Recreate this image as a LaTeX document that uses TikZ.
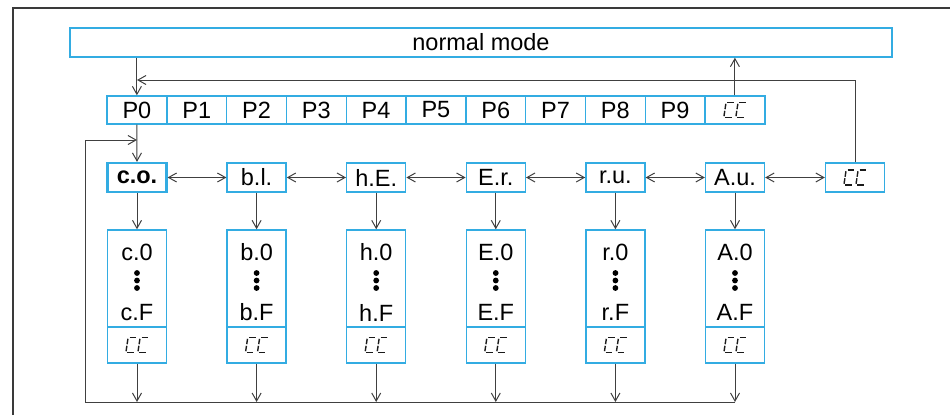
\documentclass[tikz,border=0pt]{standalone}
\usepackage{fontspec}
\setmainfont{Liberation Sans}
\usetikzlibrary{arrows.meta}
\definecolor{boxblue}{HTML}{33ACE2}
\definecolor{wire}{HTML}{404040}
\definecolor{framec}{HTML}{3A3A3A}
\definecolor{glyphc}{HTML}{1A1A1A}
\tikzset{
  lbl/.style={inner sep=0pt, font=\fontsize{23.5}{27}\selectfont, text=black},
  pcell/.style={draw=boxblue, line width=1.4pt, minimum width=59.8pt, minimum height=28pt, inner sep=0pt, lbl},
  rbox/.style={draw=boxblue, line width=1.4pt, minimum width=59pt, minimum height=29pt, inner sep=0pt, lbl},
  colbox/.style={draw=boxblue, line width=1.4pt, minimum width=59pt, minimum height=133pt, inner sep=0pt},
  divline/.style={draw=boxblue, line width=1.4pt},
  conn/.style={draw=wire, line width=1pt, -{Straight Barb[length=8pt,width=9pt]}},
  dconn/.style={draw=wire, line width=1pt, {Straight Barb[length=8pt,width=9pt]}-{Straight Barb[length=8pt,width=9pt]}},
  wireline/.style={draw=wire, line width=1pt},
  framel/.style={draw=framec, line width=1.5pt},
  dotc/.style={fill=black, draw=none},
  ccglyph/.pic={
    \begin{scope}[xslant=0.15, line width=1.4pt]
      \foreach \o in {-10,2} {
        \draw[glyphc] (\o+1.4,-7.5) -- (\o+8,-7.5);
        \draw[glyphc] (\o,-6.2) -- (\o,-0.8);
        \draw[glyphc] (\o,0.8) -- (\o,6.2);
        \draw[glyphc] (\o+1.4,7.5) -- (\o+8,7.5);
      }
    \end{scope}
  }
}
\begin{document}
\begin{tikzpicture}[x=1pt,y=-1pt]
\useasboundingbox (0,0) rectangle (950,415);
% outer frame (cut by the picture edge)
\draw[framel] (13,415) -- (13,8) -- (950,8);

% normal mode
\node[rbox, minimum width=822pt, minimum height=29pt] (nm) at (481,42.5) {normal mode};

% P row
\foreach \i in {0,...,9} {
  \node[pcell] (p\i) at ({107+59.8*\i+29.9},110) {P\i};
}
\node[pcell] (pcc) at ({107+59.8*10+29.9},110) {};
\pic at (pcc.center) {ccglyph};

% second row
\node[rbox, line width=2.2pt, font=\fontsize{23.5}{27}\selectfont\bfseries] (co) at (137,177.5) {c.o.};
\node[rbox] (bl) at (256.6,177.5) {b.l.};
\node[rbox] (hE) at (376.2,177.5) {h.E.};
\node[rbox] (Er) at (495.8,177.5) {E.r.};
\node[rbox] (ru) at (615.4,177.5) {r.u.};
\node[rbox] (Au) at (735,177.5) {A.u.};
\node[rbox] (cc2) at (855,177.5) {};
\pic at (cc2.center) {ccglyph};

% columns
\foreach \n/\x/\t in {cc/137/c, cb/256.6/b, ch/376.2/h, cE/495.8/E, cr/615.4/r, cA/735/A} {
  \node[colbox] (\n) at (\x,296.5) {};
  \draw[divline] (\x-29.5,327) -- (\x+29.5,327);
  \node[lbl] (\n0) at (\x,252.5) {\t.0};
  \node[lbl] (\n F) at (\x,312.5) {\t.F};
  \fill[dotc] (\x,273) circle (2.9pt);
  \fill[dotc] (\x,280.5) circle (2.9pt);
  \fill[dotc] (\x,288) circle (2.9pt);
  \pic at (\x,345) {ccglyph};
}

% connectors
\coordinate (ret) at (137,80);
\coordinate (loopin) at (137,140);
\coordinate (loopbl) at (85,402);
\draw[conn] (p0 |- nm.south) -- (p0.north);
\draw[conn] (pcc.north) -- (pcc |- nm.south);
\draw[conn] (cc2.north) |- (ret);
\draw[conn] (p0.south) -- (co.north);
\draw[conn] (loopbl) |- (loopin);
\draw[wireline] (loopbl) -- (cA.south |- loopbl);

\draw[dconn] (co.east) -- (bl.west);
\draw[dconn] (bl.east) -- (hE.west);
\draw[dconn] (hE.east) -- (Er.west);
\draw[dconn] (Er.east) -- (ru.west);
\draw[dconn] (ru.east) -- (Au.west);
\draw[dconn] (Au.east) -- (cc2.west);

\foreach \a/\b in {co/cc, bl/cb, hE/ch, Er/cE, ru/cr, Au/cA} {
  \draw[conn] (\a.south) -- (\b.north);
  \draw[conn] (\b.south) -- (\b.south |- loopbl);
}
\end{tikzpicture}
\end{document}
